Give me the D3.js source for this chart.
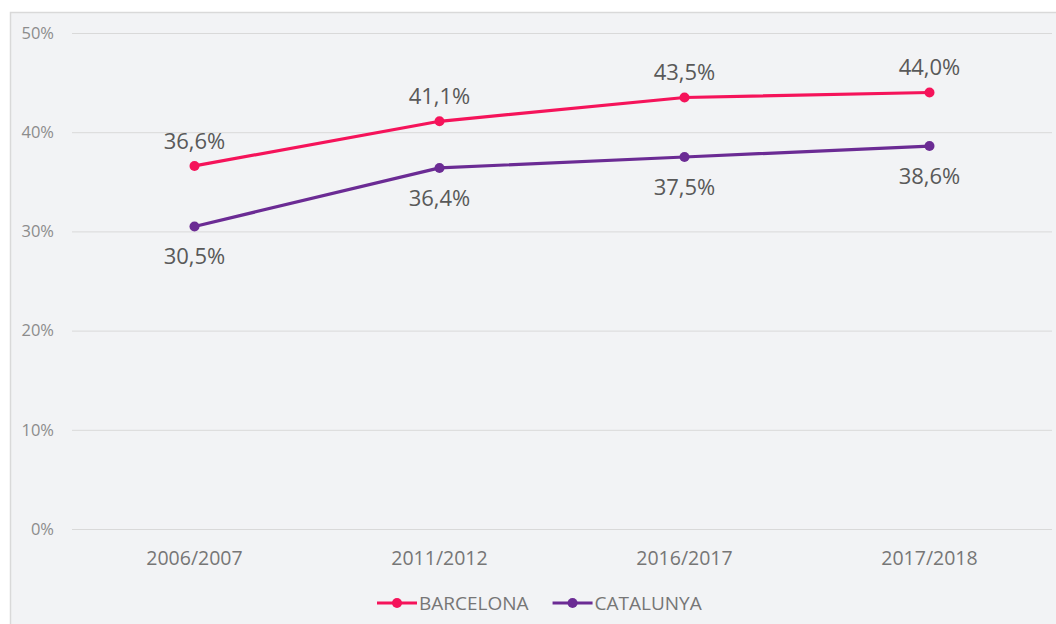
<!DOCTYPE html>
<html>
<head>
<meta charset="UTF-8">
<title>Barcelona / Catalunya</title>
<script src="https://d3js.org/d3.v7.min.js"></script>
<style>
  body { margin: 0; background: #ffffff; }
  svg { display: block; font-family: "Open Sans", "Noto Sans", sans-serif; }
  .grid line { stroke: #d9d9d9; stroke-width: 1; }
  .grid path { display: none; }
  .ylab text { fill: #8c8c8c; font-size: 16.5px; }
  .xlab text { fill: #767676; font-size: 19.5px; }
</style>
</head>
<body>
<div id="chart"></div>
<script>
// data
var categories = ["2006/2007", "2011/2012", "2016/2017", "2017/2018"];
var barcelona = [36.6, 41.1, 43.5, 44.0];
var catalunya = [30.5, 36.4, 37.5, 38.6];
var yTicks = [0, 10, 20, 30, 40, 50];
var seriesNames = ["BARCELONA", "CATALUNYA"];
var seriesColors = ["#f5135a", "#6b2b94"];

var W = 1056, H = 624;
var margin = {top: 33, right: 4, bottom: 95, left: 72};
var width = 1052 - margin.left;
var height = 529 - margin.top;

var svg = d3.select("#chart").append("svg")
    .attr("width", W)
    .attr("height", H);

// chart box
svg.append("rect")
    .attr("x", 10.5).attr("y", 12.5)
    .attr("width", W).attr("height", H)
    .attr("fill", "#f2f3f5")
    .attr("stroke", "#d9d9d9")
    .attr("stroke-width", 1.5);

var g = svg.append("g")
    .attr("transform", "translate(" + margin.left + "," + margin.top + ")");

var x = d3.scalePoint().domain(categories).range([0, width]).padding(0.5);
var y = d3.scaleLinear().domain([0, 50]).range([height, 0]);

// gridlines
g.append("g")
    .attr("class", "grid")
    .call(d3.axisLeft(y).tickValues(yTicks).tickSize(-width).tickFormat(""));

// y labels
var ylab = g.append("g").attr("class", "ylab");
ylab.selectAll("text")
    .data(yTicks)
    .enter().append("text")
    .attr("x", -18)
    .attr("y", function(d) { return y(d); })
    .attr("dy", "0.35em")
    .attr("text-anchor", "end")
    .text(function(d) { return d + "%"; });

// x labels
var xlab = g.append("g").attr("class", "xlab");
xlab.selectAll("text")
    .data(categories)
    .enter().append("text")
    .attr("x", function(d) { return x(d); })
    .attr("y", height + 29)
    .attr("dy", "0.35em")
    .attr("text-anchor", "middle")
    .text(function(d) { return d; });

var series = [
    {name: seriesNames[0], values: barcelona, color: seriesColors[0], above: true},
    {name: seriesNames[1], values: catalunya, color: seriesColors[1], above: false}
];

var line = d3.line()
    .x(function(d, i) { return x(categories[i]); })
    .y(function(d) { return y(d); });

var fmt = function(v) { return v.toFixed(1).replace(".", ",") + "%"; };

series.forEach(function(s) {
    g.append("path")
        .datum(s.values)
        .attr("fill", "none")
        .attr("stroke", s.color)
        .attr("stroke-width", 3.2)
        .attr("stroke-linejoin", "round")
        .attr("d", line);

    g.selectAll(null)
        .data(s.values)
        .enter().append("circle")
        .attr("cx", function(d, i) { return x(categories[i]); })
        .attr("cy", function(d) { return y(d); })
        .attr("r", 5)
        .attr("fill", s.color);

    g.selectAll(null)
        .data(s.values)
        .enter().append("text")
        .attr("x", function(d, i) { return x(categories[i]); })
        .attr("y", function(d) { return y(d) + (s.above ? -25 : 30); })
        .attr("dy", "0.35em")
        .attr("text-anchor", "middle")
        .attr("fill", "#595959")
        .attr("font-size", "22px")
        .text(fmt);
});

// legend
var legend = svg.append("g").attr("transform", "translate(377,603)");
var lx = 0;
series.forEach(function(s) {
    var item = legend.append("g").attr("transform", "translate(" + lx + ",0)");
    item.append("line")
        .attr("x1", 0).attr("x2", 40)
        .attr("stroke", s.color).attr("stroke-width", 3.2);
    item.append("circle")
        .attr("cx", 20).attr("r", 5).attr("fill", s.color);
    var t = item.append("text")
        .attr("x", 42)
        .attr("dy", "0.35em")
        .attr("fill", "#767676")
        .attr("font-size", "19px")
        .text(s.name);
    lx += 42 + t.node().getComputedTextLength() + 24;
});
</script>
</body>
</html>
